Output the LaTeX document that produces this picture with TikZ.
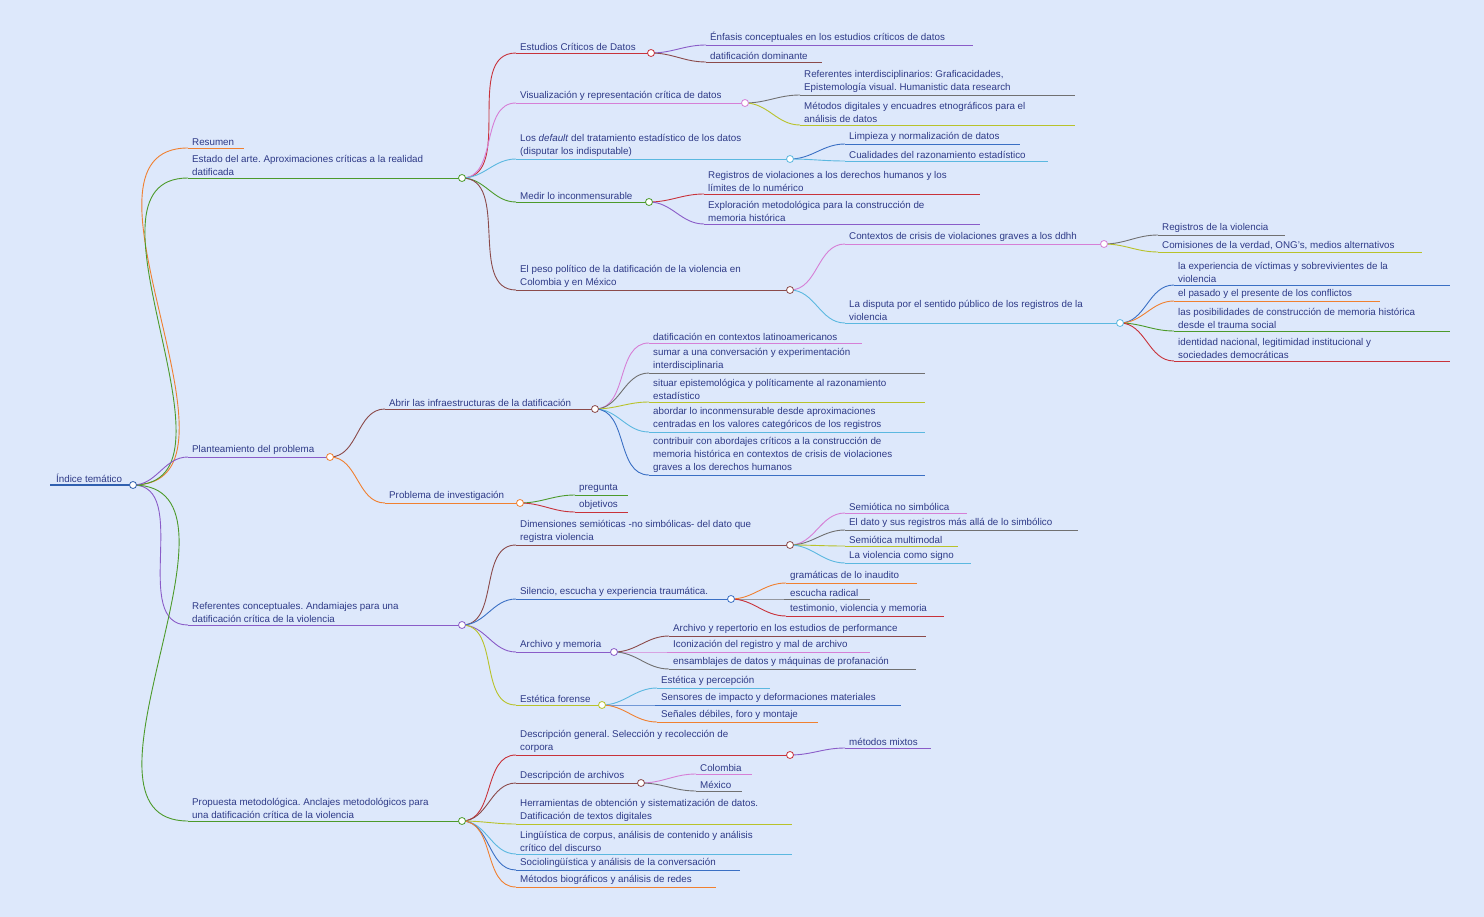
\documentclass[tikz,border=0pt]{standalone}
\usepackage{fontspec}
\setmainfont{Liberation Sans}
\frenchspacing
\usetikzlibrary{positioning}
\definecolor{mmbg}{HTML}{DDE8FB}
\definecolor{mmtxt}{HTML}{2E3A87}
\definecolor{mmred}{HTML}{C8323A}
\definecolor{mmpurple}{HTML}{8A5CC8}
\definecolor{mmpink}{HTML}{D67FD6}
\definecolor{mmblue}{HTML}{3A6FC4}
\definecolor{mmlblue}{HTML}{5BB8E0}
\definecolor{mmgreen}{HTML}{4C9A2A}
\definecolor{mmbrown}{HTML}{8B4A4A}
\definecolor{mmorange}{HTML}{F08030}
\definecolor{mmgray}{HTML}{707070}
\definecolor{mmyellow}{HTML}{B8C22A}
\definecolor{mmroot}{HTML}{3060B0}
\tikzset{
  mmtext/.style={inner sep=0pt,align=left,text=mmtxt,font=\fontsize{9.8}{13}\selectfont},
  mmline/.style={line width=0.9pt},
}
% item: name, x, y of underline, x end, colour, text
\newcommand\mmitem[6]{%
  \coordinate (#1-s) at (#2,#3);
  \coordinate (#1-e) at (#4,#3);
  \node[mmtext,anchor=south west] (#1) at (#2+4,#3-2.5) {#6};
  \draw[#5,mmline] (#1-s) -- (#1-e);}
\newcommand\mmlink[3]{\draw[#3,mmline] (#1-e) to[out=0,in=180] (#2-s);}
\newcommand\mmdot[2]{\draw[#2,line width=0.8pt,fill=white] (#1-e) circle (3.5);}
\begin{document}
\begin{tikzpicture}[x=1pt,y=-1pt]
  \fill[mmbg] (0,0) rectangle (1484,917);
  \useasboundingbox (0,0) rectangle (1484,917);

  % root
  \coordinate (root-s) at (50,485);
  \coordinate (root-e) at (133,485);
  \node[mmtext,anchor=south west] (root) at (56,482.5) {Índice temático};

  % level 1
  \mmitem{resumen}{188}{148}{244}{mmorange}{Resumen}
  \mmitem{estado}{188}{178}{462}{mmgreen}{Estado del arte. Aproximaciones críticas a la realidad\\datificada}
  \mmitem{plant}{188}{457}{330}{mmpurple}{Planteamiento del problema}
  \mmitem{refcon}{188}{625}{462}{mmpurple}{Referentes conceptuales. Andamiajes para una\\datificación crítica de la violencia}
  \mmitem{prop}{188}{821}{462}{mmgreen}{Propuesta metodológica. Anclajes metodológicos para\\una datificación crítica de la violencia}
  \mmlink{root}{resumen}{mmorange}
  \mmlink{root}{estado}{mmgreen}
  \mmlink{root}{plant}{mmpurple}
  \mmlink{root}{refcon}{mmpurple}
  \mmlink{root}{prop}{mmgreen}

  % estado del arte
  \mmitem{estcrit}{516}{53}{651}{mmred}{Estudios Críticos de Datos}
  \mmitem{visual}{516}{103}{745}{mmpink}{Visualización y representación crítica de datos}
  \mmitem{default}{516}{159}{790}{mmlblue}{Los \emph{default} del tratamiento estadístico de los datos\\(disputar los indisputable)}
  \mmitem{medir}{516}{202}{649}{mmgreen}{Medir lo inconmensurable}
  \mmitem{peso}{516}{290}{790}{mmbrown}{El peso político de la datificación de la violencia en\\Colombia y en México}
  \foreach \c/\k in {estcrit/mmred,visual/mmpink,default/mmlblue,medir/mmgreen,peso/mmbrown}
    {\mmlink{estado}{\c}{\k}}

  \mmitem{enfasis}{706}{45}{973}{mmpurple}{Énfasis conceptuales en los estudios críticos de datos}
  \mmitem{datdom}{706}{62}{822}{mmbrown}{datificación dominante}
  \mmlink{estcrit}{enfasis}{mmpurple}
  \mmlink{estcrit}{datdom}{mmbrown}
  \mmitem{refint}{800}{95}{1075}{mmgray}{Referentes interdisciplinarios: Graficacidades,\\Epistemología visual. Humanistic data research}
  \mmitem{metdig}{800}{125}{1075}{mmyellow}{Métodos digitales y encuadres etnográficos para el\\análisis de datos}
  \mmlink{visual}{refint}{mmgray}
  \mmlink{visual}{metdig}{mmyellow}
  \mmitem{limpieza}{845}{144}{1020}{mmblue}{Limpieza y normalización de datos}
  \mmitem{cualid}{845}{161}{1048}{mmlblue}{Cualidades del razonamiento estadístico}
  \mmlink{default}{limpieza}{mmblue}
  \mmlink{default}{cualid}{mmlblue}
  \mmitem{regviol}{704}{194}{980}{mmred}{Registros de violaciones a los derechos humanos y los\\límites de lo numérico}
  \mmitem{explor}{704}{224}{980}{mmpurple}{Exploración metodológica para la construcción de\\memoria histórica}
  \mmlink{medir}{regviol}{mmred}
  \mmlink{medir}{explor}{mmpurple}
  \mmitem{contextos}{845}{244}{1104}{mmpink}{Contextos de crisis de violaciones graves a los ddhh}
  \mmitem{disputa}{845}{323}{1120}{mmlblue}{La disputa por el sentido público de los registros de la\\violencia}
  \mmlink{peso}{contextos}{mmpink}
  \mmlink{peso}{disputa}{mmlblue}
  \mmitem{regv}{1158}{235}{1285}{mmgray}{Registros de la violencia}
  \mmitem{comis}{1158}{252}{1422}{mmyellow}{Comisiones de la verdad, ONG's, medios alternativos}
  \mmlink{contextos}{regv}{mmgray}
  \mmlink{contextos}{comis}{mmyellow}
  \mmitem{exper}{1174}{285}{1450}{mmblue}{la experiencia de víctimas y sobrevivientes de la\\violencia}
  \mmitem{pasado}{1174}{301}{1380}{mmorange}{el pasado y el presente de los conflictos}
  \mmitem{posib}{1174}{331}{1450}{mmgreen}{las posibilidades de construcción de memoria histórica\\desde el trauma social}
  \mmitem{ident}{1174}{361}{1450}{mmred}{identidad nacional, legitimidad institucional y\\sociedades democráticas}
  \foreach \c/\k in {exper/mmblue,pasado/mmorange,posib/mmgreen,ident/mmred}
    {\mmlink{disputa}{\c}{\k}}

  % planteamiento
  \mmitem{abrir}{385}{409}{595}{mmbrown}{Abrir las infraestructuras de la datificación}
  \mmitem{probinv}{385}{503}{520}{mmorange}{Problema de investigación}
  \mmlink{plant}{abrir}{mmbrown}
  \mmlink{plant}{probinv}{mmorange}
  \mmitem{a1}{649}{343}{862}{mmpink}{datificación en contextos latinoamericanos}
  \mmitem{a2}{649}{373}{925}{mmgray}{sumar a una conversación y experimentación\\interdisciplinaria}
  \mmitem{a3}{649}{402}{925}{mmyellow}{situar epistemológica y políticamente al razonamiento\\estadístico}
  \mmitem{a4}{649}{432}{925}{mmlblue}{abordar lo inconmensurable desde aproximaciones\\centradas en los valores categóricos de los registros}
  \mmitem{a5}{649}{475}{925}{mmblue}{contribuir con abordajes críticos a la construcción de\\memoria histórica en contextos de crisis de violaciones\\graves a los derechos humanos}
  \foreach \c/\k in {a1/mmpink,a2/mmgray,a3/mmyellow,a4/mmlblue,a5/mmblue}
    {\mmlink{abrir}{\c}{\k}}
  \mmitem{preg}{575}{495}{628}{mmgreen}{pregunta}
  \mmitem{obj}{575}{512}{628}{mmred}{objetivos}
  \mmlink{probinv}{preg}{mmgreen}
  \mmlink{probinv}{obj}{mmred}

  % referentes conceptuales
  \mmitem{dimen}{516}{545}{790}{mmbrown}{Dimensiones semióticas -no simbólicas- del dato que\\registra violencia}
  \mmitem{silen}{516}{599}{731}{mmblue}{Silencio, escucha y experiencia traumática.}
  \mmitem{archivo}{516}{652}{614}{mmpurple}{Archivo y memoria}
  \mmitem{estet}{516}{705}{602}{mmyellow}{Estética forense}
  \foreach \c/\k in {dimen/mmbrown,silen/mmblue,archivo/mmpurple,estet/mmyellow}
    {\mmlink{refcon}{\c}{\k}}
  \mmitem{s1}{845}{513}{967}{mmpink}{Semiótica no simbólica}
  \mmitem{s2}{845}{530}{1078}{mmgray}{El dato y sus registros más allá de lo simbólico}
  \mmitem{s3}{845}{546}{958}{mmyellow}{Semiótica multimodal}
  \mmitem{s4}{845}{563}{971}{mmlblue}{La violencia como signo}
  \foreach \c/\k in {s1/mmpink,s2/mmgray,s3/mmyellow,s4/mmlblue}
    {\mmlink{dimen}{\c}{\k}}
  \mmitem{gram}{786}{583}{917}{mmorange}{gramáticas de lo inaudito}
  \mmitem{escucha}{786}{599}{870}{mmgray}{escucha radical}
  \mmitem{testim}{786}{616}{944}{mmred}{testimonio, violencia y memoria}
  \foreach \c/\k in {gram/mmorange,escucha/mmgray,testim/mmred}
    {\mmlink{silen}{\c}{\k}}
  \mmitem{ar1}{669}{636}{926}{mmbrown}{Archivo y repertorio en los estudios de performance}
  \mmitem{ar2}{669}{652}{870}{mmpink}{Iconización del registro y mal de archivo}
  \mmitem{ar3}{669}{669}{916}{mmgray}{ensamblajes de datos y máquinas de profanación}
  \foreach \c/\k in {ar1/mmbrown,ar2/mmpink,ar3/mmgray}
    {\mmlink{archivo}{\c}{\k}}
  \mmitem{e1}{657}{688}{770}{mmlblue}{Estética y percepción}
  \mmitem{e2}{657}{705}{901}{mmblue}{Sensores de impacto y deformaciones materiales}
  \mmitem{e3}{657}{722}{818}{mmorange}{Señales débiles, foro y montaje}
  \foreach \c/\k in {e1/mmlblue,e2/mmblue,e3/mmorange}
    {\mmlink{estet}{\c}{\k}}

  % propuesta
  \mmitem{descgen}{516}{755}{790}{mmred}{Descripción general. Selección y recolección de\\corpora}
  \mmitem{descarch}{516}{783}{641}{mmbrown}{Descripción de archivos}
  \mmitem{herram}{516}{824}{792}{mmyellow}{Herramientas de obtención y sistematización de datos.\\Datificación de textos digitales}
  \mmitem{ling}{516}{854}{792}{mmlblue}{Lingüística de corpus, análisis de contenido y análisis\\crítico del discurso}
  \mmitem{socio}{516}{870}{740}{mmblue}{Sociolingüística y análisis de la conversación}
  \mmitem{biog}{516}{887}{716}{mmorange}{Métodos biográficos y análisis de redes}
  \foreach \c/\k in {descgen/mmred,descarch/mmbrown,herram/mmyellow,ling/mmlblue,socio/mmblue,biog/mmorange}
    {\mmlink{prop}{\c}{\k}}
  \mmitem{mixtos}{845}{748}{931}{mmpurple}{métodos mixtos}
  \mmlink{descgen}{mixtos}{mmpurple}
  \mmitem{colombia}{696}{774}{752}{mmpink}{Colombia}
  \mmitem{mexico}{696}{791}{742}{mmgray}{México}
  \mmlink{descarch}{colombia}{mmpink}
  \mmlink{descarch}{mexico}{mmgray}

  % root line and dots
  \draw[mmroot,line width=2pt] (root-s) -- (root-e);
  \mmdot{root}{mmroot}
  \foreach \c/\k in {estado/mmgreen,plant/mmorange,refcon/mmpurple,prop/mmgreen,
      estcrit/mmred,visual/mmpink,default/mmlblue,medir/mmgreen,peso/mmbrown,
      contextos/mmpink,disputa/mmlblue,abrir/mmbrown,probinv/mmorange,
      dimen/mmbrown,silen/mmblue,archivo/mmpurple,estet/mmyellow,
      descgen/mmred,descarch/mmbrown}
    {\mmdot{\c}{\k}}
\end{tikzpicture}
\end{document}
